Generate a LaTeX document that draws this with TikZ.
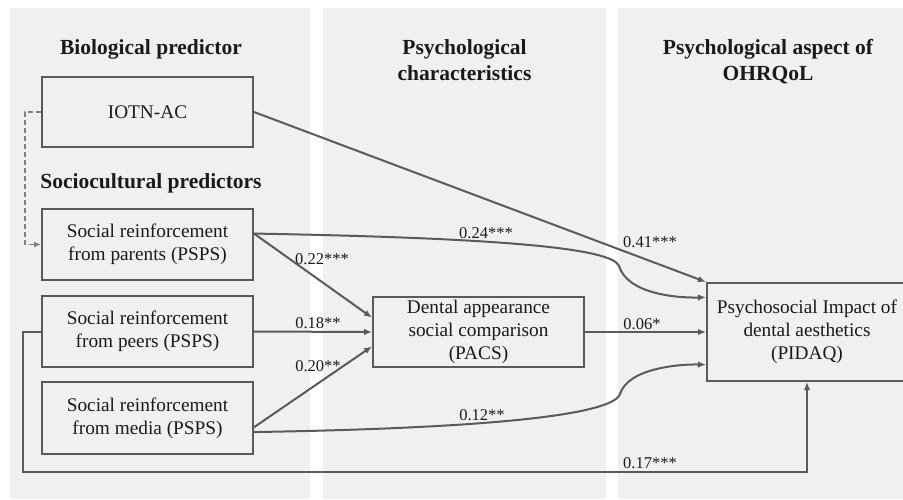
\documentclass[tikz,border=0pt]{standalone}
\usepackage{fontspec}
\setmainfont{Liberation Serif}
\usetikzlibrary{calc,arrows.meta}
\definecolor{panel}{HTML}{F0F0F0}
\definecolor{ln}{HTML}{5A5A5A}
\definecolor{dl}{HTML}{808080}
\definecolor{txt}{HTML}{1A1A1A}
\begin{document}
\begin{tikzpicture}[x=1pt,y=-1pt,
  box/.style={draw=ln,line width=2pt,inner sep=0pt,align=center,
    font=\fontsize{19.3}{23}\selectfont,text=txt},
  head/.style={font=\bfseries\fontsize{21.5}{26.5}\selectfont,align=center,text=txt},
  lab/.style={font=\fontsize{16.5}{20}\selectfont,text=txt,inner sep=0pt},
  conn/.style={draw=ln,line width=2pt},
  arr/.style={conn,-{Latex[length=8pt,width=6.5pt]}},
  darr/.style={draw=dl,line width=1.8pt,dash pattern=on 5pt off 3pt,-{Latex[length=7pt,width=6pt]}},
]
\useasboundingbox (0,0) rectangle (903,499);
\clip (0,0) rectangle (903,499);
\fill[white] (0,0) rectangle (903,499);
\fill[panel] (10,8) rectangle (310,499);
\fill[panel] (323,8) rectangle (606,499);
\fill[panel] (618,8) rectangle (903,499);

\node[head] (h1) at (151,49) {Biological predictor};
\node[head] (h2) at (464.5,60) {Psychological\\characteristics};
\node[head] (h3) at (768,61.5) {Psychological aspect of\\OHRQoL};
\node[head] (h4) at (151,183) {Sociocultural predictors};

\node[box,minimum width=211pt,minimum height=70pt] (iotn) at (147.5,112) {IOTN-AC};
\node[box,minimum width=211pt,minimum height=71pt] (parents) at (147.5,244.5) {Social reinforcement\\from parents (PSPS)};
\node[box,minimum width=211pt,minimum height=71pt] (peers) at (147.5,331.5) {Social reinforcement\\from peers (PSPS)};
\node[box,minimum width=211pt,minimum height=72pt] (media) at (147.5,418) {Social reinforcement\\from media (PSPS)};
\node[box,minimum width=211pt,minimum height=70pt] (pacs) at (478.5,332) {Dental appearance\\social comparison\\(PACS)};
\node[box,minimum width=200pt,minimum height=98pt] (pidaq) at (807,332) {Psychosocial Impact of\\dental aesthetics\\(PIDAQ)};

\coordinate (pe) at ($(parents.north east)!0.35!(parents.south east)$);
\coordinate (me1) at ($(media.north east)!0.625!(media.south east)$);
\coordinate (me2) at ($(media.north east)!0.69!(media.south east)$);

\draw[darr] (iotn.west) -- ++(-16,0) |- (parents.west);

\draw[arr] (iotn.east) -- (pidaq.north west);
\draw[arr] (pe) -- ($(pacs.north west)!0.3!(pacs.south west)$);
\draw[arr] (pe) .. controls (500,238) and (612,248) .. (619,266)
  .. controls (628,295) and (680,298) .. ($(pidaq.north west)!0.153!(pidaq.south west)$);
\draw[arr] (peers.east) -- (pacs.west);
\draw[arr] (me1) -- ($(pacs.north west)!0.7!(pacs.south west)$);
\draw[arr] (me2) .. controls (500,428) and (613,414) .. (620,394)
  .. controls (628,368) and (680,364) .. ($(pidaq.north west)!0.827!(pidaq.south west)$);
\draw[arr] (pacs.east) -- (pacs.east -| pidaq.west);
\draw[arr] (peers.west) -- ++(-18,0) |- ($(pidaq.south)+(0,90)$) -- (pidaq.south);

\node[lab] (l1) at (650,242) {0.41***};
\node[lab] (l2) at (486,233) {0.24***};
\node[lab] (l3) at (322,259) {0.22***};
\node[lab] (l4) at (318,323) {0.18**};
\node[lab] (l5) at (318,366) {0.20**};
\node[lab] (l6) at (642,324) {0.06*};
\node[lab] (l7) at (482,415) {0.12**};
\node[lab] (l8) at (650,463) {0.17***};
\end{tikzpicture}
\end{document}
